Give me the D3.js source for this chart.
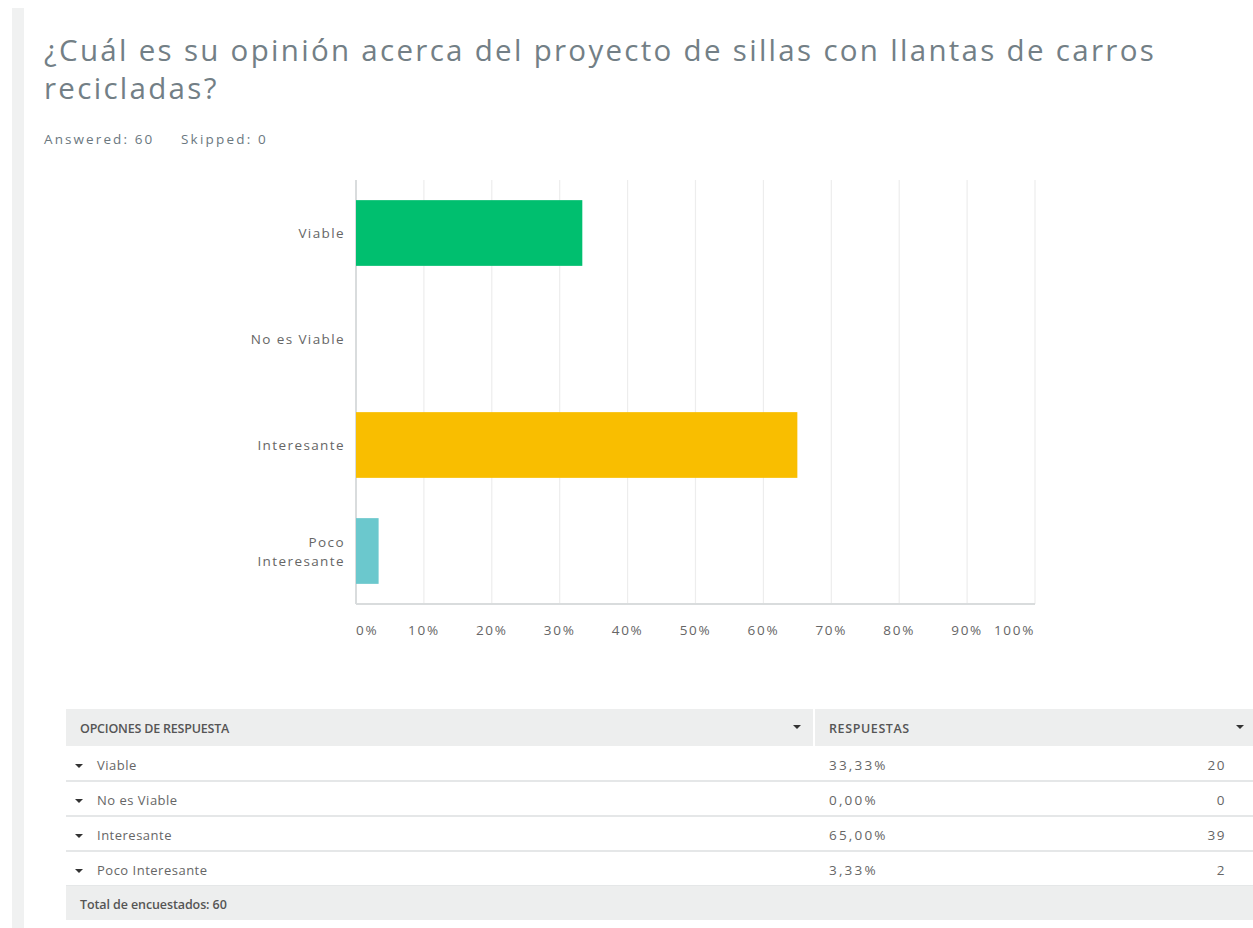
<!DOCTYPE html>
<html>
<head>
<meta charset="utf-8">
<script src="https://cdn.jsdelivr.net/npm/d3@7"></script>
<style>
body { margin: 0; background: #fff; font-family: "Open Sans", sans-serif; }
</style>
</head>
<body>
<div id="chart"></div>
<script>
//-------------------------------------
// data
//-------------------------------------
var categories = ["Viable", "No es Viable", "Interesante", "Poco Interesante"];
var percents = [33.33, 0, 65.00, 3.33];
var counts = [20, 0, 39, 2];
var colors = ["#00bf6f", "#a0a0a0", "#f9be00", "#6bc8cd"];
var ticks = [0, 10, 20, 30, 40, 50, 60, 70, 80, 90, 100];
var title = ["¿Cuál es su opinión acerca del proyecto de sillas con llantas de carros", "recicladas?"];
var answered = 60, skipped = 0;

var width = 1253;
var height = 928;

var svg = d3.select("#chart")
	.append("svg")
	.attr("width", width)
	.attr("height", height);

// left strip
svg.append("rect")
	.attr("x", 12).attr("y", 8)
	.attr("width", 12).attr("height", height - 8)
	.style("fill", "#f0f1f1");

// title
svg.selectAll("text.title")
	.data(title)
	.enter()
	.append("text")
	.attr("class", "title")
	.attr("x", 44)
	.attr("y", function(d, i) { return 61 + i * 38; })
	.style("font-size", "29.5px")
	.style("letter-spacing", "2.3px")
	.style("fill", "#737f86")
	.text(function(d) { return d; });

svg.append("text")
	.attr("x", 44).attr("y", 144)
	.style("font-size", "13.5px")
	.style("letter-spacing", "2.1px")
	.style("fill", "#6b787f")
	.text("Answered: " + answered);
svg.append("text")
	.attr("x", 181).attr("y", 144)
	.style("font-size", "13.5px")
	.style("letter-spacing", "2.2px")
	.style("fill", "#6b787f")
	.text("Skipped: " + skipped);

//-------------------------------------
// bar chart
//-------------------------------------
var x = d3.scaleLinear().domain([0, 100]).range([356, 1035]);
var y = d3.scaleBand().domain(categories).range([180, 604]).paddingInner(0.38).paddingOuter(0.19);

var chart = svg.append("g");

// grid
chart.selectAll("line.grid")
	.data(ticks.slice(1))
	.enter()
	.append("line")
	.attr("x1", function(d) { return x(d); })
	.attr("x2", function(d) { return x(d); })
	.attr("y1", 180).attr("y2", 604)
	.style("stroke", "#ededed")
	.style("stroke-width", 1.2);

// axes lines
chart.append("line")
	.attr("x1", x(0)).attr("x2", x(0))
	.attr("y1", 180).attr("y2", 604)
	.style("stroke", "#d9dcdd").style("stroke-width", 2);
chart.append("line")
	.attr("x1", x(0)).attr("x2", x(100))
	.attr("y1", 604).attr("y2", 604)
	.style("stroke", "#d9dcdd").style("stroke-width", 2);

// bars
chart.selectAll("rect.bar")
	.data(categories)
	.enter()
	.append("rect")
	.attr("class", "bar")
	.attr("x", x(0))
	.attr("y", function(d) { return y(d); })
	.attr("width", function(d, i) { return x(percents[i]) - x(0); })
	.attr("height", y.bandwidth())
	.style("fill", function(d, i) { return colors[i]; });

// category labels
chart.selectAll("text.cat")
	.data(categories)
	.enter()
	.append("text")
	.attr("class", "cat")
	.attr("text-anchor", "end")
	.style("font-size", "13.5px")
	.style("letter-spacing", "1.4px")
	.style("fill", "#666")
	.each(function(d) {
		var words = d == "Poco Interesante" ? ["Poco", "Interesante"] : [d];
		var cy = y(d) + y.bandwidth() / 2;
		var t = d3.select(this);
		words.forEach(function(w, j) {
			t.append("tspan")
				.attr("x", 345)
				.attr("y", cy + 5 + (j - (words.length - 1) / 2) * 19)
				.text(w);
		});
	});

// tick labels
chart.selectAll("text.tick")
	.data(ticks)
	.enter()
	.append("text")
	.attr("class", "tick")
	.attr("x", function(d) { return x(d); })
	.attr("y", 635)
	.attr("text-anchor", function(d) { return d == 0 ? "start" : (d == 100 ? "end" : "middle"); })
	.style("font-size", "13.5px")
	.style("letter-spacing", "1.7px")
	.style("fill", "#666")
	.text(function(d) { return d + "%"; });

//-------------------------------------
// table
//-------------------------------------
var tx = 66, tw = width - tx, rowH = 35, headY = 709, headH = 37;
var col2 = 815;

svg.append("rect")
	.attr("x", tx).attr("y", headY)
	.attr("width", tw).attr("height", headH)
	.style("fill", "#edeeee");
svg.append("line")
	.attr("x1", col2 - 1).attr("x2", col2 - 1)
	.attr("y1", headY).attr("y2", headY + headH)
	.style("stroke", "#fff").style("stroke-width", 2);

function arrow(cx, cy) {
	svg.append("path")
		.attr("d", "M" + (cx - 4) + "," + (cy - 2) + "L" + (cx + 4) + "," + (cy - 2) + "L" + cx + "," + (cy + 2) + "Z")
		.style("fill", "#333");
}

svg.append("text")
	.attr("x", 80).attr("y", headY + 24)
	.style("font-size", "12.5px").style("font-weight", "600")
	.style("letter-spacing", "-0.2px")
	.style("fill", "#555")
	.text("OPCIONES DE RESPUESTA");
arrow(797, headY + 18);
svg.append("text")
	.attr("x", 829).attr("y", headY + 24)
	.style("font-size", "12.5px").style("font-weight", "600")
	.style("letter-spacing", "0.6px")
	.style("fill", "#555")
	.text("RESPUESTAS");
arrow(1240, headY + 18);

var rows = svg.selectAll("g.row")
	.data(categories)
	.enter()
	.append("g")
	.attr("class", "row")
	.attr("transform", function(d, i) { return "translate(0," + (headY + headH + i * rowH) + ")"; });

rows.append("line")
	.attr("x1", tx).attr("x2", width)
	.attr("y1", rowH).attr("y2", rowH)
	.style("stroke", "#dcdfe0").style("stroke-width", 1.5);

rows.append("path")
	.attr("d", "M75,18L83,18L79,22Z")
	.style("fill", "#333");

rows.append("text")
	.attr("x", 97).attr("y", 24)
	.style("font-size", "13px").style("fill", "#666")
	.style("letter-spacing", "0.5px")
	.text(function(d) { return d; });

rows.append("text")
	.attr("x", 829).attr("y", 24)
	.style("font-size", "13.5px").style("fill", "#666")
	.style("letter-spacing", "2.2px")
	.text(function(d, i) { return percents[i].toFixed(2).replace(".", ",") + "%"; });

rows.append("text")
	.attr("x", 1226).attr("y", 24)
	.attr("text-anchor", "end")
	.style("font-size", "13.5px").style("fill", "#666")
	.style("letter-spacing", "1.5px")
	.text(function(d, i) { return counts[i]; });

var totY = headY + headH + categories.length * rowH;
svg.append("rect")
	.attr("x", tx).attr("y", totY)
	.attr("width", tw).attr("height", 34)
	.style("fill", "#edeeee");
svg.append("text")
	.attr("x", 80).attr("y", totY + 23)
	.style("font-size", "12.5px").style("font-weight", "600")
	.style("letter-spacing", "-0.1px")
	.style("fill", "#555")
	.text("Total de encuestados: " + answered);
</script>
</body>
</html>
